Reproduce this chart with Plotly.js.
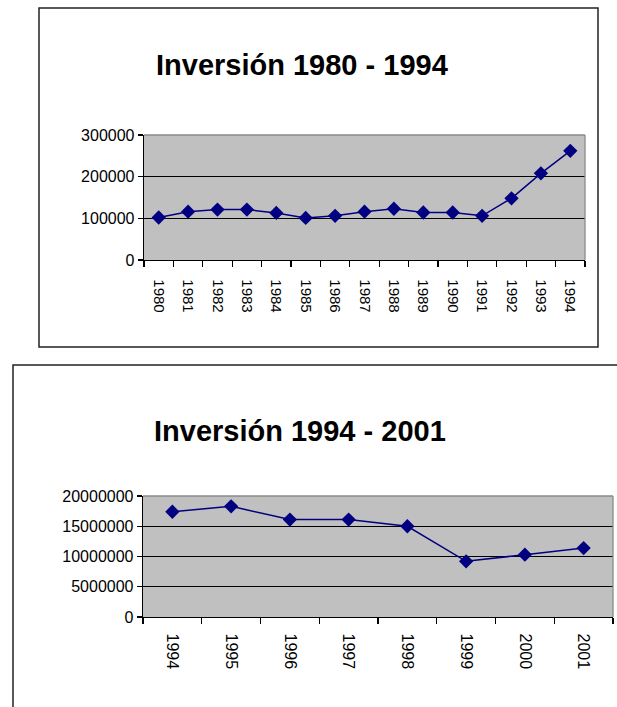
<!DOCTYPE html>
<html>
<head>
<meta charset="utf-8">
<script src="https://cdn.plot.ly/plotly-3.0.1.min.js"></script>
<style>html,body{margin:0;padding:0;background:#fff;}#chart{width:617px;height:707px;}</style>
</head>
<body>
<div id="chart"></div>
<script>
// Data
var years1 = ['1980','1981','1982','1983','1984','1985','1986','1987','1988','1989','1990','1991','1992','1993','1994'];
var inversion1 = [102000,116000,121000,121000,113000,101000,106000,116000,123000,114000,114000,106000,148000,208000,262000];
var years2 = ['1994','1995','1996','1997','1998','1999','2000','2001'];
var inversion2 = [17400000,18300000,16100000,16100000,15000000,9200000,10300000,11400000];
var title1 = 'Inversión 1980 - 1994';
var title2 = 'Inversión 1994 - 2001';

var W = 617, H = 707;
function px(x){ return x / W; }
function py(y){ return 1 - y / H; }

var navy = '#000080';
var fontFam = 'Liberation Sans, Arial, sans-serif';

var traces = [
  {x: years1, y: inversion1, type: 'scatter', mode: 'lines+markers', xaxis: 'x', yaxis: 'y',
   line: {color: navy, width: 1.5}, marker: {symbol: 'diamond', size: 11, color: navy}, hoverinfo: 'x+y'},
  {x: years2, y: inversion2, type: 'scatter', mode: 'lines+markers', xaxis: 'x2', yaxis: 'y2',
   line: {color: navy, width: 1.5}, marker: {symbol: 'diamond', size: 11, color: navy}, hoverinfo: 'x+y'}
];

function xAxis(domain, n, anchor, standoff, fsize){
  return {
    domain: domain, anchor: anchor, type: 'category', range: [-0.5, n - 0.5],
    tickson: 'boundaries', ticks: 'outside', ticklen: 6, tickwidth: 1.3, tickcolor: '#000',
    showline: true, linecolor: '#000', linewidth: 1.3, showgrid: false, zeroline: false,
    tickangle: 90, ticklabelstandoff: standoff,
    tickfont: {family: fontFam, size: fsize, color: '#000'}, fixedrange: true
  };
}
function yAxis(domain, range, dtick, anchor){
  return {
    domain: domain, anchor: anchor, range: range, dtick: dtick, tick0: 0, tickformat: 'd',
    ticks: 'outside', ticklen: 5, tickwidth: 1.3, tickcolor: '#000',
    showline: true, linecolor: '#000', linewidth: 1.3,
    showgrid: true, gridcolor: '#000', gridwidth: 1.3, zeroline: false,
    tickfont: {family: fontFam, size: 16, color: '#000'}, fixedrange: true
  };
}

var layout = {
  width: W, height: H,
  margin: {l: 0, r: 0, t: 0, b: 0, pad: 0},
  paper_bgcolor: '#fff', plot_bgcolor: '#c0c0c0',
  showlegend: false,
  xaxis: xAxis([px(144), px(585)], years1.length, 'y', 15, 15),
  yaxis: yAxis([py(260), py(135)], [0, 300000], 100000, 'x'),
  xaxis2: xAxis([px(143), px(613)], years2.length, 'y2', 12, 16),
  yaxis2: yAxis([py(617), py(496)], [0, 20000000], 5000000, 'x2'),
  shapes: [
    // outer frames
    {type: 'rect', xref: 'paper', yref: 'paper', x0: px(39), x1: px(598), y0: py(347), y1: py(8),
     line: {color: '#222', width: 1.5}, fillcolor: 'rgba(0,0,0,0)'},
    {type: 'rect', xref: 'paper', yref: 'paper', x0: px(13), x1: px(640), y0: py(730), y1: py(365),
     line: {color: '#222', width: 1.5}, fillcolor: 'rgba(0,0,0,0)'},
    // plot-area gray top/right borders
    {type: 'line', xref: 'x domain', yref: 'y domain', x0: 0, x1: 1, y0: 1, y1: 1, line: {color: '#8a8a8a', width: 1.3}},
    {type: 'line', xref: 'x domain', yref: 'y domain', x0: 1, x1: 1, y0: 0, y1: 1, line: {color: '#8a8a8a', width: 1.3}},
    {type: 'line', xref: 'x2 domain', yref: 'y2 domain', x0: 0, x1: 1, y0: 1, y1: 1, line: {color: '#8a8a8a', width: 1.3}},
    {type: 'line', xref: 'x2 domain', yref: 'y2 domain', x0: 1, x1: 1, y0: 0, y1: 1, line: {color: '#8a8a8a', width: 1.3}}
  ],
  annotations: [
    {text: title1, xref: 'paper', yref: 'paper', x: px(302), y: py(65), xanchor: 'center', yanchor: 'middle',
     showarrow: false, font: {family: fontFam, size: 29, color: '#000', weight: 'bold'}},
    {text: title2, xref: 'paper', yref: 'paper', x: px(300), y: py(431), xanchor: 'center', yanchor: 'middle',
     showarrow: false, font: {family: fontFam, size: 29, color: '#000', weight: 'bold'}}
  ]
};

Plotly.newPlot('chart', traces, layout, {displayModeBar: false, staticPlot: true});
</script>
</body>
</html>
